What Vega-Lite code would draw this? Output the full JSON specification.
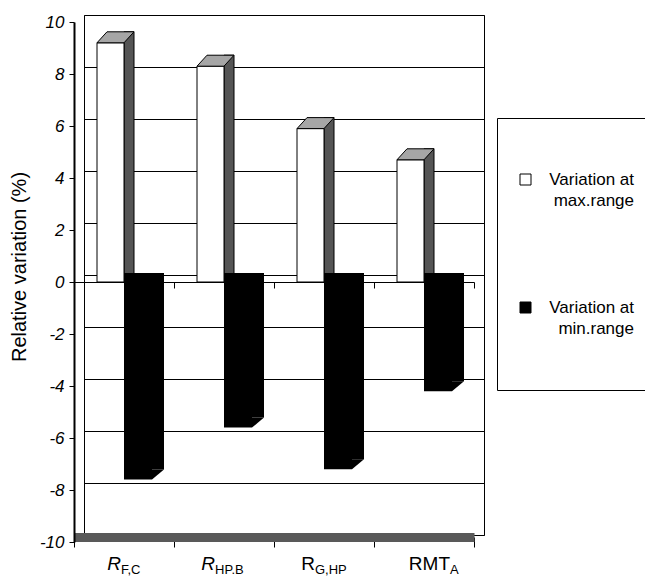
{
  "$schema": "https://vega.github.io/schema/vega-lite/v6.json",
  "width": 400,
  "height": 520,
  "autosize": "none",
  "padding": {"left": 84, "top": 15, "right": 161, "bottom": 43},
  "background": "white",
  "config": {
    "font": "Liberation Sans",
    "view": {"stroke": "black", "strokeWidth": 1},
    "axis": {"labelColor": "black", "titleColor": "black", "domainColor": "black", "tickColor": "black", "labelFont": "Liberation Sans", "titleFont": "Liberation Sans"}
  },
  "data": {
    "values": [
      {"cat": "RF,C", "series": "max", "value": 9.2, "main": "R", "sub": "F,C"},
      {"cat": "RHP,B", "series": "max", "value": 8.3, "main": "R", "sub": "HP.B"},
      {"cat": "RG,HP", "series": "max", "value": 5.9, "main": "R", "sub": "G,HP"},
      {"cat": "RMTA", "series": "max", "value": 4.7, "main": "RMT", "sub": "A"},
      {"cat": "RF,C", "series": "min", "value": -7.6, "main": "R", "sub": "F,C"},
      {"cat": "RHP,B", "series": "min", "value": -5.6, "main": "R", "sub": "HP.B"},
      {"cat": "RG,HP", "series": "min", "value": -7.2, "main": "R", "sub": "G,HP"},
      {"cat": "RMTA", "series": "min", "value": -4.2, "main": "RMT", "sub": "A"}
    ]
  },
  "resolve": {"axis": {"x": "independent", "y": "independent"}},
  "layer": [
    {
      "transform": [{"filter": "datum.series == 'max'"}],
      "mark": {"type": "bar", "width": 10, "xOffset": -5, "yOffset": -4, "y2Offset": 7, "fill": "#555555", "stroke": "black", "strokeWidth": 1},
      "encoding": {
        "x": {"field": "cat", "type": "nominal", "sort": null, "scale": {"paddingInner": 0, "paddingOuter": 0},
          "axis": {"orient": "bottom", "offset": 12, "translate": -9.5, "labels": false, "ticks": true, "tickBand": "extent", "tickSize": 10, "tickColor": "black", "domain": true, "domainColor": "#595959", "domainWidth": 9, "grid": false, "title": null}},
        "y": {"field": "value", "type": "quantitative", "scale": {"domain": [-10, 10], "nice": false, "zero": false},
          "axis": {"orient": "left", "values": [-10, -8, -6, -4, -2, 0, 2, 4, 6, 8, 10], "offset": 17, "translate": 7.5, "grid": false, "domain": true, "domainColor": "black", "domainWidth": 2, "ticks": true, "tickSize": 5, "tickColor": "black", "tickWidth": 1, "labelFontStyle": "italic", "labelFontSize": 17, "labelColor": "black", "labelPadding": 5, "labelFlush": false, "labelOverlap": false, "labelExpr": "replace(datum.label, '\u2212', '-')", "title": "Relative variation (%)", "titleFontSize": 20, "titleFontWeight": "normal", "titleColor": "black", "titleX": -45, "titleY": 244.5}},
        "y2": {"datum": 0}
      }
    },
    {
      "transform": [{"filter": "datum.series == 'max'"}],
      "mark": {"type": "bar", "width": 27, "xOffset": -23.5, "yOffset": 7, "y2Offset": 7, "stroke": "black", "strokeWidth": 1},
      "encoding": {
        "x": {"field": "cat", "type": "nominal", "sort": null, "scale": {"paddingInner": 0, "paddingOuter": 0},
          "axis": {"orient": "bottom", "offset": -243, "translate": -9.5, "labels": false, "ticks": true, "tickBand": "extent", "tickSize": 6, "tickColor": "black", "domain": true, "domainColor": "black", "domainWidth": 1, "grid": false, "title": null}},
        "y": {"field": "value", "type": "quantitative", "scale": {"domain": [-10, 10], "nice": false, "zero": false},
          "axis": {"orient": "left", "values": [-10, -8, -6, -4, -2, 0, 2, 4, 6, 8, 10], "grid": true, "gridColor": "black", "gridWidth": 1, "gridOpacity": 1, "domain": false, "ticks": false, "labels": false, "title": null}},
        "y2": {"datum": 0},
        "fill": {"field": "series", "type": "nominal", "scale": {"domain": ["max", "min"], "range": ["white", "black"]},
          "legend": {"orient": "none", "legendX": 413, "legendY": 103, "title": null, "symbolType": "square", "symbolSize": 121, "symbolStrokeColor": "black", "symbolStrokeWidth": 1, "symbolOffset": -33, "padding": 53, "rowPadding": 89, "strokeColor": "black", "fillColor": "white", "labelFont": "Liberation Sans", "labelFontSize": 17, "labelColor": "black", "labelAlign": "right", "labelOffset": 100, "labelLimit": 300,
            "labelExpr": "datum.label == 'max' ? ['Variation at', 'max.range'] : ['Variation at', 'min.range']",
            "encode": {"labels": {"update": {"lineHeight": {"value": 21}}}}}}
      }
    },
    {
      "transform": [{"filter": "datum.series == 'max'"}],
      "mark": {"type": "point", "shape": "M-1,0.297L0.459,0.297L1,-0.297L-0.459,-0.297Z", "size": 1369, "filled": true, "fill": "#a6a6a6", "stroke": "black", "strokeWidth": 1, "opacity": 1, "xOffset": -18.5, "yOffset": 1.5},
      "encoding": {
        "x": {"field": "cat", "type": "nominal", "sort": null, "scale": {"paddingInner": 0, "paddingOuter": 0}, "axis": null},
        "y": {"field": "value", "type": "quantitative", "scale": {"domain": [-10, 10], "nice": false, "zero": false}, "axis": null}
      }
    },
    {
      "transform": [{"filter": "datum.series == 'min'"}],
      "mark": {"type": "bar", "width": 28, "xOffset": 4, "yOffset": 7, "y2Offset": -2},
      "encoding": {
        "x": {"field": "cat", "type": "nominal", "sort": null, "scale": {"paddingInner": 0, "paddingOuter": 0}, "axis": null},
        "y": {"field": "value", "type": "quantitative", "scale": {"domain": [-10, 10], "nice": false, "zero": false}, "axis": null},
        "y2": {"datum": 0},
        "fill": {"field": "series", "type": "nominal", "scale": {"domain": ["max", "min"], "range": ["white", "black"]},
          "legend": {"orient": "none", "legendX": 413, "legendY": 103, "title": null, "symbolType": "square", "symbolSize": 121, "symbolStrokeColor": "black", "symbolStrokeWidth": 1, "symbolOffset": -33, "padding": 53, "rowPadding": 89, "strokeColor": "black", "fillColor": "white", "labelFont": "Liberation Sans", "labelFontSize": 17, "labelColor": "black", "labelAlign": "right", "labelOffset": 100, "labelLimit": 300,
            "labelExpr": "datum.label == 'max' ? ['Variation at', 'max.range'] : ['Variation at', 'min.range']",
            "encode": {"labels": {"update": {"lineHeight": {"value": 21}}}}}}
      }
    },
    {
      "transform": [{"filter": "datum.series == 'min'"}],
      "mark": {"type": "bar", "width": 12, "xOffset": 24, "yOffset": -3, "y2Offset": -2, "fill": "black"},
      "encoding": {
        "x": {"field": "cat", "type": "nominal", "sort": null, "scale": {"paddingInner": 0, "paddingOuter": 0}, "axis": null},
        "y": {"field": "value", "type": "quantitative", "scale": {"domain": [-10, 10], "nice": false, "zero": false}, "axis": null},
        "y2": {"datum": 0}
      }
    },
    {
      "transform": [{"filter": "datum.series == 'min'"}],
      "mark": {"type": "point", "shape": "M-1,0.833L1,-0.833L-1,-0.833Z", "size": 144, "filled": true, "fill": "black", "opacity": 1, "xOffset": 24, "yOffset": 2},
      "encoding": {
        "x": {"field": "cat", "type": "nominal", "sort": null, "scale": {"paddingInner": 0, "paddingOuter": 0}, "axis": null},
        "y": {"field": "value", "type": "quantitative", "scale": {"domain": [-10, 10], "nice": false, "zero": false}, "axis": null}
      }
    },
    {
      "transform": [{"filter": "datum.series == 'max' && datum.cat == 'RF,C'"}],
      "mark": {"type": "text", "align": "right", "baseline": "alphabetic", "fontSize": 19, "fontStyle": "italic", "font": "Liberation Sans", "xOffset": -13, "yOffset": 35, "fill": "black"},
      "encoding": {
        "x": {"field": "cat", "type": "nominal", "sort": null, "scale": {"paddingInner": 0, "paddingOuter": 0}, "axis": null},
        "y": {"datum": -10, "type": "quantitative", "scale": {"domain": [-10, 10], "nice": false, "zero": false}, "axis": null},
        "text": {"field": "main"}
      }
    },
    {
      "transform": [{"filter": "datum.series == 'max' && datum.cat == 'RF,C'"}],
      "mark": {"type": "text", "align": "left", "baseline": "alphabetic", "fontSize": 13, "font": "Liberation Sans", "xOffset": -13, "yOffset": 39, "fill": "black"},
      "encoding": {
        "x": {"field": "cat", "type": "nominal", "sort": null, "scale": {"paddingInner": 0, "paddingOuter": 0}, "axis": null},
        "y": {"datum": -10, "type": "quantitative", "scale": {"domain": [-10, 10], "nice": false, "zero": false}, "axis": null},
        "text": {"field": "sub"}
      }
    },
    {
      "transform": [{"filter": "datum.series == 'max' && datum.cat == 'RHP,B'"}],
      "mark": {"type": "text", "align": "right", "baseline": "alphabetic", "fontSize": 19, "fontStyle": "italic", "font": "Liberation Sans", "xOffset": -19, "yOffset": 35, "fill": "black"},
      "encoding": {
        "x": {"field": "cat", "type": "nominal", "sort": null, "scale": {"paddingInner": 0, "paddingOuter": 0}, "axis": null},
        "y": {"datum": -10, "type": "quantitative", "scale": {"domain": [-10, 10], "nice": false, "zero": false}, "axis": null},
        "text": {"field": "main"}
      }
    },
    {
      "transform": [{"filter": "datum.series == 'max' && datum.cat == 'RG,HP'"}],
      "mark": {"type": "text", "align": "right", "baseline": "alphabetic", "fontSize": 19, "font": "Liberation Sans", "xOffset": -19, "yOffset": 35, "fill": "black"},
      "encoding": {
        "x": {"field": "cat", "type": "nominal", "sort": null, "scale": {"paddingInner": 0, "paddingOuter": 0}, "axis": null},
        "y": {"datum": -10, "type": "quantitative", "scale": {"domain": [-10, 10], "nice": false, "zero": false}, "axis": null},
        "text": {"field": "main"}
      }
    },
    {
      "transform": [{"filter": "datum.series == 'max' && (datum.cat == 'RHP,B' || datum.cat == 'RG,HP')"}],
      "mark": {"type": "text", "align": "left", "baseline": "alphabetic", "fontSize": 13, "font": "Liberation Sans", "xOffset": -19, "yOffset": 39, "fill": "black"},
      "encoding": {
        "x": {"field": "cat", "type": "nominal", "sort": null, "scale": {"paddingInner": 0, "paddingOuter": 0}, "axis": null},
        "y": {"datum": -10, "type": "quantitative", "scale": {"domain": [-10, 10], "nice": false, "zero": false}, "axis": null},
        "text": {"field": "sub"}
      }
    },
    {
      "transform": [{"filter": "datum.series == 'max' && datum.cat == 'RMTA'"}],
      "mark": {"type": "text", "align": "right", "baseline": "alphabetic", "fontSize": 19, "font": "Liberation Sans", "xOffset": 16, "yOffset": 35, "fill": "black"},
      "encoding": {
        "x": {"field": "cat", "type": "nominal", "sort": null, "scale": {"paddingInner": 0, "paddingOuter": 0}, "axis": null},
        "y": {"datum": -10, "type": "quantitative", "scale": {"domain": [-10, 10], "nice": false, "zero": false}, "axis": null},
        "text": {"field": "main"}
      }
    },
    {
      "transform": [{"filter": "datum.series == 'max' && datum.cat == 'RMTA'"}],
      "mark": {"type": "text", "align": "left", "baseline": "alphabetic", "fontSize": 13, "font": "Liberation Sans", "xOffset": 16, "yOffset": 39, "fill": "black"},
      "encoding": {
        "x": {"field": "cat", "type": "nominal", "sort": null, "scale": {"paddingInner": 0, "paddingOuter": 0}, "axis": null},
        "y": {"datum": -10, "type": "quantitative", "scale": {"domain": [-10, 10], "nice": false, "zero": false}, "axis": null},
        "text": {"field": "sub"}
      }
    }
  ]
}
